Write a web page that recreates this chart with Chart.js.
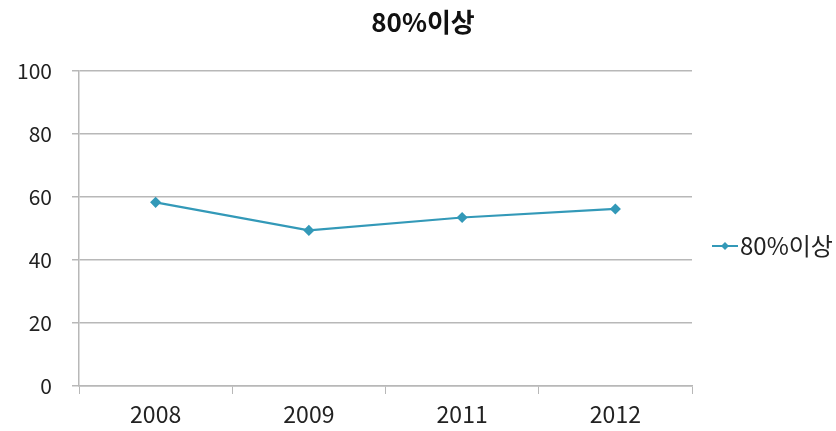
<!DOCTYPE html>
<html>
<head>
<meta charset="utf-8">
<script src="https://cdn.jsdelivr.net/npm/chart.js@4"></script>
<style>
  html, body { margin: 0; padding: 0; background: #fff; }
  #wrap { width: 836px; height: 431px; position: relative; }
</style>
</head>
<body>
<div id="wrap"><canvas id="c"></canvas></div>
<script>
var categories = ['2008', '2009', '2011', '2012'];
var seriesName = '80%이상';
var values = [58.3, 49.4, 53.5, 56.2];
var yTicks = [0, 20, 40, 60, 80, 100];

var LINE = '#3399b8';
var FONT = '"Noto Sans CJK KR", "Noto Sans", sans-serif';

// title over the whole canvas + legend on the right, drawn by hand
var sideLegend = {
    id: 'sideLegend',
    afterDraw: function (chart) {
        var ctx = chart.ctx;
        ctx.save();
        ctx.fillStyle = '#111';
        ctx.font = 'bold 26px ' + FONT;
        ctx.textAlign = 'center';
        ctx.textBaseline = 'middle';
        ctx.fillText(seriesName, 423, 22);

        var x = chart.chartArea.right + 20;
        var y = 246;
        ctx.strokeStyle = LINE;
        ctx.lineWidth = 2;
        ctx.beginPath();
        ctx.moveTo(x, y);
        ctx.lineTo(x + 26, y);
        ctx.stroke();
        ctx.fillStyle = LINE;
        ctx.beginPath();
        ctx.moveTo(x + 13, y - 4);
        ctx.lineTo(x + 17, y);
        ctx.lineTo(x + 13, y + 4);
        ctx.lineTo(x + 9, y);
        ctx.closePath();
        ctx.fill();
        ctx.fillStyle = '#222';
        ctx.font = '24px ' + FONT;
        ctx.textAlign = 'left';
        ctx.fillText(seriesName, x + 28, y);
        ctx.restore();
    }
};

new Chart(document.getElementById('c'), {
    type: 'line',
    data: {
        labels: categories,
        datasets: [{
            label: seriesName,
            data: values,
            borderColor: LINE,
            backgroundColor: LINE,
            borderWidth: 2.2,
            pointStyle: 'rectRot',
            pointRadius: 4,
            pointHoverRadius: 4,
            tension: 0
        }]
    },
    options: {
        responsive: true,
        maintainAspectRatio: false,
        animation: false,
        layout: { padding: { right: 144, top: 71, bottom: 0, left: 0 } },
        plugins: {
            legend: { display: false },
            tooltip: { enabled: false },
            title: { display: false }
        },
        scales: {
            x: {
                offset: true,
                grid: { offset: true, drawOnChartArea: false, drawTicks: true, tickLength: 8, color: '#b8b8b8' },
                border: { color: '#b8b8b8', width: 1.5 },
                ticks: { color: '#222', font: { family: FONT, size: 23 }, padding: 6 },
                afterFit: function (s) { s.height = 45; }
            },
            y: {
                min: 0,
                max: 100,
                afterBuildTicks: function (s) { s.ticks = yTicks.map(function (v) { return { value: v }; }); },
                grid: { color: '#b8b8b8', lineWidth: 1.5, tickLength: 7 },
                border: { color: '#b8b8b8', width: 1.5 },
                ticks: { color: '#222', font: { family: FONT, size: 21 }, padding: 20 },
                afterFit: function (s) { s.width = 79; }
            }
        }
    },
    plugins: [sideLegend]
});
</script>
</body>
</html>
